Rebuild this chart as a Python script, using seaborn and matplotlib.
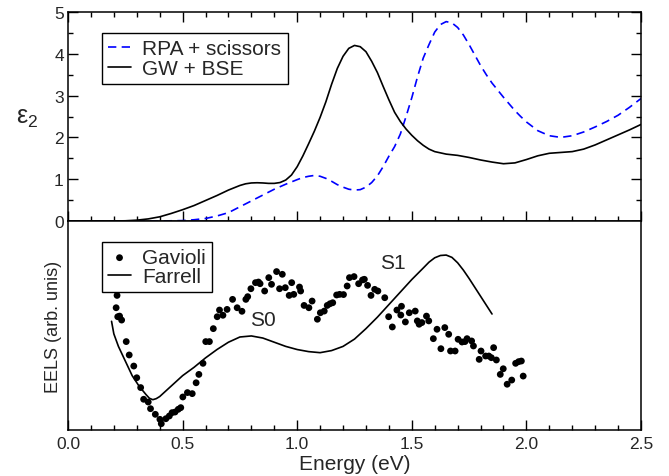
import numpy as np
import pandas as pd
import matplotlib
matplotlib.use("Agg")
import matplotlib.pyplot as plt
from matplotlib.ticker import MultipleLocator, NullFormatter
import seaborn as sns

sns.set_theme(style="ticks")
plt.rcParams["font.family"] = ["Liberation Sans", "DejaVu Sans"]
plt.rcParams["mathtext.fontset"] = "custom"
plt.rcParams["mathtext.rm"] = "Liberation Sans"
plt.rcParams["mathtext.it"] = "Liberation Sans"

# ---------------- data ----------------
gw_energy = [0.0, 0.1, 0.2, 0.25, 0.3, 0.35, 0.4, 0.45, 0.5, 0.55, 0.6, 0.65, 0.7, 0.75,
             0.775, 0.8, 0.825, 0.85, 0.875, 0.9, 0.925, 0.95, 0.975, 1.0, 1.025, 1.05,
             1.075, 1.1, 1.125, 1.15, 1.175, 1.2, 1.225, 1.25, 1.275, 1.3, 1.325, 1.35,
             1.375, 1.4, 1.425, 1.45, 1.475, 1.5, 1.525, 1.55, 1.575, 1.6, 1.65, 1.7, 1.75,
             1.8, 1.85, 1.9, 1.95, 2.0, 2.05, 2.1, 2.15, 2.2, 2.25, 2.3, 2.35, 2.4, 2.45, 2.5]
gw_eps2 = [0.0, 0.0, 0.0, 0.005, 0.02, 0.05, 0.1, 0.18, 0.27, 0.37, 0.49, 0.61, 0.74, 0.85,
           0.89, 0.91, 0.915, 0.91, 0.90, 0.90, 0.92, 0.98, 1.1, 1.3, 1.56, 1.85,
           2.15, 2.48, 2.85, 3.27, 3.65, 3.94, 4.13, 4.2, 4.17, 4.05, 3.82, 3.55,
           3.22, 2.9, 2.6, 2.38, 2.2, 2.05, 1.92, 1.81, 1.72, 1.66, 1.6, 1.57, 1.52,
           1.46, 1.41, 1.37, 1.39, 1.47, 1.56, 1.62, 1.64, 1.66, 1.72, 1.82, 1.94, 2.06, 2.18,
           2.31]

rpa_energy = [0.0, 0.1, 0.2, 0.3, 0.4, 0.5, 0.55, 0.6, 0.65, 0.7, 0.75, 0.8, 0.85, 0.9, 0.95,
              1.0, 1.025, 1.05, 1.075, 1.1, 1.125, 1.15, 1.175, 1.2, 1.225, 1.25, 1.275, 1.3,
              1.325, 1.35, 1.375, 1.4, 1.425, 1.45, 1.475, 1.5, 1.525, 1.55, 1.575, 1.6,
              1.625, 1.65, 1.675, 1.7, 1.725, 1.75, 1.775, 1.8, 1.825, 1.85, 1.875, 1.9,
              1.925, 1.95, 1.975, 2.0, 2.05, 2.1, 2.15, 2.2, 2.25, 2.3, 2.35, 2.4, 2.45, 2.5]
rpa_eps2 = [0.0, 0.0, 0.0, 0.0, 0.0, 0.01, 0.03, 0.06, 0.12, 0.2, 0.34, 0.48, 0.62, 0.76, 0.88,
            0.99, 1.04, 1.07, 1.09, 1.07, 1.02, 0.95, 0.87, 0.81, 0.76, 0.74, 0.75, 0.81,
            0.92, 1.08, 1.3, 1.55, 1.78, 2.08, 2.5, 2.95, 3.45, 3.9, 4.22, 4.52,
            4.7, 4.77, 4.74, 4.63, 4.45, 4.22, 3.97, 3.72, 3.5, 3.3, 3.13, 2.96,
            2.8, 2.64, 2.5, 2.37, 2.16, 2.04, 2.0, 2.04, 2.13, 2.25, 2.38, 2.53, 2.72, 2.93]

farrell_energy = [0.19, 0.2, 0.22, 0.25, 0.28, 0.31, 0.34, 0.355, 0.37, 0.385, 0.4, 0.45, 0.5,
                  0.55, 0.6, 0.65, 0.7, 0.75, 0.8, 0.85, 0.9, 0.95, 1.0, 1.05, 1.1, 1.15,
                  1.2, 1.25, 1.3, 1.35, 1.4, 1.45, 1.5, 1.55, 1.575, 1.6, 1.625, 1.65, 1.675,
                  1.7, 1.725, 1.75, 1.8, 1.85]
farrell_eels = [0.52, 0.46, 0.40, 0.33, 0.26, 0.21, 0.17, 0.152, 0.145, 0.15, 0.16, 0.21, 0.26,
                0.30, 0.345, 0.385, 0.42, 0.445, 0.45, 0.44, 0.42, 0.40, 0.385, 0.375, 0.37,
                0.38, 0.40, 0.435, 0.485, 0.54, 0.60, 0.66, 0.72, 0.775, 0.803, 0.824, 0.835,
                0.837, 0.826, 0.80, 0.765, 0.725, 0.64, 0.555]

gavioli_energy = [0.214, 0.210, 0.217, 0.225, 0.234, 0.254, 0.267, 0.287, 0.300, 0.317, 0.330,
                  0.350, 0.360, 0.381, 0.401, 0.407, 0.427, 0.442, 0.454, 0.467, 0.481, 0.492,
                  0.501, 0.521, 0.542, 0.559, 0.571, 0.589, 0.601, 0.617, 0.634, 0.651, 0.661,
                  0.676, 0.694, 0.718, 0.738, 0.759, 0.776, 0.784, 0.798, 0.818, 0.831, 0.838,
                  0.858, 0.876, 0.888, 0.910, 0.923, 0.935, 0.948, 0.965, 0.976, 0.985, 1.010,
                  1.015, 1.030, 1.051, 1.065, 1.088, 1.101, 1.118, 1.131, 1.143, 1.155, 1.172,
                  1.185, 1.202, 1.218, 1.228, 1.248, 1.268, 1.285, 1.293, 1.307, 1.322, 1.338,
                  1.352, 1.382, 1.399, 1.415, 1.435, 1.452, 1.455, 1.472, 1.489, 1.515, 1.524,
                  1.532, 1.544, 1.564, 1.574, 1.594, 1.610, 1.627, 1.644, 1.661, 1.669, 1.689,
                  1.702, 1.719, 1.732, 1.741, 1.761, 1.769, 1.794, 1.802, 1.822, 1.836, 1.847,
                  1.857, 1.869, 1.886, 1.899, 1.916, 1.936, 1.953, 1.966, 1.978, 1.986]
gavioli_eels = [0.644, 0.585, 0.542, 0.545, 0.526, 0.423, 0.359, 0.306, 0.250, 0.203, 0.147,
                0.134, 0.102, 0.075, 0.051, 0.030, 0.054, 0.067, 0.083, 0.086, 0.099, 0.107,
                0.158, 0.179, 0.174, 0.226, 0.266, 0.319, 0.423, 0.423, 0.485, 0.542, 0.574,
                0.549, 0.577, 0.625, 0.585, 0.568, 0.625, 0.638, 0.676, 0.705, 0.708, 0.700,
                0.665, 0.729, 0.697, 0.758, 0.676, 0.745, 0.681, 0.644, 0.705, 0.649, 0.684,
                0.665, 0.596, 0.585, 0.617, 0.530, 0.561, 0.569, 0.596, 0.604, 0.609, 0.646,
                0.649, 0.648, 0.689, 0.729, 0.734, 0.700, 0.718, 0.721, 0.692, 0.644, 0.673,
                0.665, 0.633, 0.542, 0.493, 0.574, 0.550, 0.592, 0.517, 0.561, 0.569, 0.522,
                0.506, 0.514, 0.545, 0.522, 0.437, 0.482, 0.389, 0.490, 0.458, 0.378, 0.378,
                0.434, 0.421, 0.423, 0.437, 0.426, 0.402, 0.338, 0.378, 0.354, 0.354, 0.346,
                0.394, 0.335, 0.266, 0.293, 0.219, 0.239, 0.319, 0.327, 0.330, 0.258]

x_ticks = [0.0, 0.5, 1.0, 1.5, 2.0, 2.5]
x_tick_labels = ["0.0", "0.5", "1.0", "1.5", "2.0", "2.5"]
y_ticks_top = [0, 1, 2, 3, 4, 5]

# ---------------- figure ----------------
W, H = 669, 477
fig = plt.figure(figsize=(W / 100, H / 100), dpi=100)
ax1 = fig.add_axes([68 / W, 1 - 222 / H, 573 / W, 209 / H])
ax2 = fig.add_axes([68 / W, 1 - 431 / H, 573 / W, 209 / H])

lw = 1.2
sns.lineplot(x=rpa_energy, y=rpa_eps2, ax=ax1, color="#0000ff", linestyle=(0, (5.0, 3.2)),
             linewidth=lw, label="RPA + scissors", sort=False, estimator=None)
sns.lineplot(x=gw_energy, y=gw_eps2, ax=ax1, color="black", linewidth=lw,
             label="GW + BSE", sort=False, estimator=None)

ax1.set_xlim(0, 2.5)
ax1.set_ylim(0, 5)
ax1.set_xticks(x_ticks)
ax1.xaxis.set_minor_locator(MultipleLocator(0.1))
ax1.xaxis.set_major_formatter(NullFormatter())
ax1.set_yticks(y_ticks_top)
ax1.set_yticklabels([str(v) for v in y_ticks_top])
ax1.yaxis.set_minor_locator(MultipleLocator(0.5))
ax1.tick_params(which="both", direction="in", top=True, bottom=True, left=True, right=True,
                width=1.0, color="black", labelsize=12.5, pad=3)
ax1.tick_params(which="major", length=7)
ax1.tick_params(which="minor", length=3.8)
ax1.set_xlabel("")
ax1.set_ylabel(r"$\mathrm{ε}_\mathrm{2}$", fontsize=18, rotation=0, ha="center", va="center")
ax1.yaxis.set_label_coords(-0.072, 0.5)

leg1 = ax1.legend(loc="upper left", bbox_to_anchor=(0.059, 0.90), fontsize=15,
                  frameon=True, fancybox=False, framealpha=1, edgecolor="black",
                  borderaxespad=0, handlelength=1.1, handletextpad=0.55, borderpad=0.3,
                  labelspacing=0.05)
leg1.get_frame().set_linewidth(1.0)

sns.scatterplot(x=gavioli_energy, y=gavioli_eels, ax=ax2, color="black", s=24,
                edgecolor="none", label="Gavioli")
sns.lineplot(x=farrell_energy, y=farrell_eels, ax=ax2, color="black", linewidth=lw,
             label="Farrell", sort=False, estimator=None)
ax2.text(0.85, 0.53, "S0", fontsize=15, ha="center", va="center")
ax2.text(1.417, 0.80, "S1", fontsize=15, ha="center", va="center")

ax2.set_xlim(0, 2.5)
ax2.set_ylim(0, 1)
ax2.set_xticks(x_ticks)
ax2.set_xticklabels(x_tick_labels)
ax2.xaxis.set_minor_locator(MultipleLocator(0.1))
ax2.set_yticks([])
ax2.tick_params(which="both", direction="in", top=False, bottom=True, left=False, right=False,
                width=1.0, color="black", labelsize=12.5, pad=4)
ax2.tick_params(which="major", length=7)
ax2.tick_params(which="minor", length=3.8)
ax2.set_xlabel("Energy (eV)", fontsize=15, va="center")
ax2.xaxis.set_label_coords(0.5, -0.16)
ax2.set_ylabel("EELS (arb. unis)", fontsize=13, va="center")
ax2.yaxis.set_label_coords(-0.025, 0.5)

leg2 = ax2.legend(loc="upper left", bbox_to_anchor=(0.059, 0.90), fontsize=15,
                  frameon=True, fancybox=False, framealpha=1, edgecolor="black",
                  borderaxespad=0, handlelength=1.1, handletextpad=0.55, borderpad=0.3,
                  labelspacing=0.0)
leg2.get_frame().set_linewidth(1.0)

for ax in (ax1, ax2):
    for sp in ax.spines.values():
        sp.set_linewidth(1.1)
        sp.set_color("black")

fig.savefig("out.png", dpi=100)
